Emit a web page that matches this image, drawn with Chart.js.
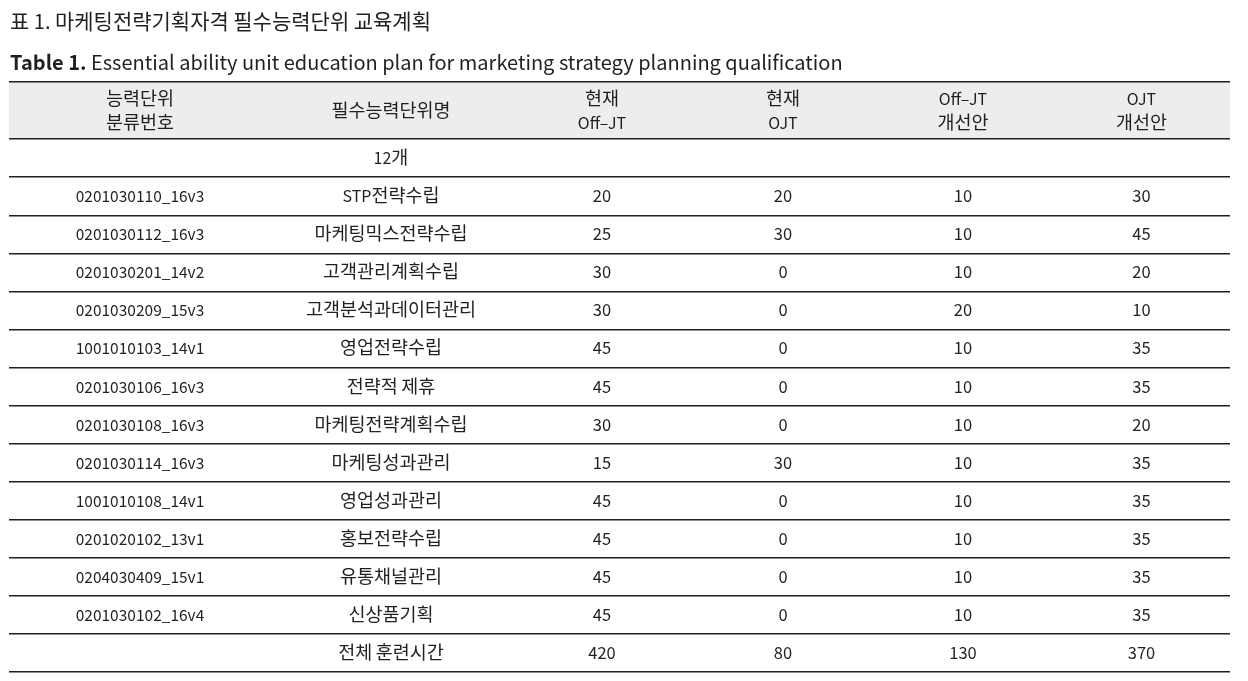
<!DOCTYPE html>
<html>
<head>
<meta charset="utf-8">
<script src="https://cdn.jsdelivr.net/npm/chart.js@4.4.1/dist/chart.umd.min.js"></script>
<style>
  html, body { margin: 0; padding: 0; background: #fff; }
  #wrap { position: relative; width: 1248px; height: 681px; }
</style>
</head>
<body>
<div id="wrap"><canvas id="table-chart"></canvas></div>
<script>
// table content
const titleKo = "표 1. 마케팅전략기획자격 필수능력단위 교육계획";
const titleEnBold = "Table 1.";
const titleEn = " Essential ability unit education plan for marketing strategy planning qualification";

const headers = [["능력단위", "분류번호"], ["필수능력단위명"], ["현재", "Off–JT"], ["현재", "OJT"], ["Off–JT", "개선안"], ["OJT", "개선안"]];
const unitCount = "12개";
const totalLabel = "전체 훈련시간";

const codes = ["0201030110_16v3", "0201030112_16v3", "0201030201_14v2", "0201030209_15v3", "1001010103_14v1", "0201030106_16v3",
  "0201030108_16v3", "0201030114_16v3", "1001010108_14v1", "0201020102_13v1", "0204030409_15v1", "0201030102_16v4"];
const names = ["STP전략수립", "마케팅믹스전략수립", "고객관리계획수립", "고객분석과데이터관리", "영업전략수립", "전략적 제휴",
  "마케팅전략계획수립", "마케팅성과관리", "영업성과관리", "홍보전략수립", "유통채널관리", "신상품기획"];
const offJtNow = [20, 25, 30, 30, 45, 45, 30, 15, 45, 45, 45, 45];
const ojtNow = [20, 30, 0, 0, 0, 0, 0, 30, 0, 0, 0, 0];
const offJtNew = [10, 10, 10, 20, 10, 10, 10, 10, 10, 10, 10, 10];
const ojtNew = [30, 45, 20, 10, 35, 35, 20, 35, 35, 35, 35, 35];
const totals = [420, 80, 130, 370];

// layout (in scale units)
const colWidths = [262, 240, 182, 180, 180, 177];
const latinPx = [15.5, 16, 16.5, 16.5, 16.5, 16.5];
const headerRows = 1.5;
const TEXT = "#231f20";
const FONT = '"Noto Sans CJK KR", "Noto Sans", sans-serif';

let acc = 0;
const colCenters = colWidths.map(w => { const c = acc + w / 2; acc += w; return c; });
const tableWidth = acc;

const bodyCols = [
  ["", ...codes, ""],
  [unitCount, ...names, totalLabel],
  ["", ...offJtNow, totals[0]],
  ["", ...ojtNow, totals[1]],
  ["", ...offJtNew, totals[2]],
  ["", ...ojtNew, totals[3]]
];
const nRows = bodyCols[0].length;
const yMax = headerRows + nRows;
const rowLines = [0];
for (let r = 0; r <= nRows; r++) rowLines.push(headerRows + r);

const datasets = [{
  label: "header",
  lpx: 16,
  data: headers.map((h, i) => ({ x: colCenters[i], y: headerRows / 2, t: h })),
  pointRadius: 0
}];
bodyCols.forEach((col, c) => {
  datasets.push({
    label: "col" + c,
    lpx: latinPx[c],
    data: col.map((v, r) => ({ x: colCenters[c], y: headerRows + r + 0.5, t: [String(v)] })),
    pointRadius: 0
  });
});

// hangul is drawn a bit larger than latin, like the original typesetting
const isHangul = ch => /[\u1100-\u11ff\u3130-\u318f\uac00-\ud7af]/.test(ch);
function splitRuns(str) {
  const runs = [];
  for (const ch of str) {
    const h = isHangul(ch);
    if (runs.length && runs[runs.length - 1].h === h) runs[runs.length - 1].s += ch;
    else runs.push({ h, s: ch });
  }
  return runs;
}
function drawMixed(ctx, str, x, y, hPx, lPx, weight, align) {
  const runs = splitRuns(str);
  let total = 0;
  runs.forEach(r => {
    ctx.font = weight + " " + (r.h ? hPx : lPx) + "px " + FONT;
    r.w = ctx.measureText(r.s).width;
    total += r.w;
  });
  let cx = align === "center" ? x - total / 2 : x;
  ctx.textAlign = "left";
  runs.forEach(r => {
    ctx.font = weight + " " + (r.h ? hPx : lPx) + "px " + FONT;
    ctx.fillText(r.s, cx, y);
    cx += r.w;
  });
  return total;
}

const tablePlugin = {
  id: "tablePlugin",
  beforeDraw(chart) {
    const { ctx, scales: { x, y } } = chart;
    ctx.save();
    ctx.fillStyle = "#ecedec";
    const top = y.getPixelForValue(0), bot = y.getPixelForValue(headerRows);
    ctx.fillRect(x.getPixelForValue(0), top, x.getPixelForValue(tableWidth) - x.getPixelForValue(0), bot - top);
    ctx.restore();
  },
  afterDatasetsDraw(chart) {
    const ctx = chart.ctx;
    ctx.save();
    ctx.fillStyle = TEXT;
    ctx.textBaseline = "alphabetic";
    chart.data.datasets.forEach((ds, i) => {
      chart.getDatasetMeta(i).data.forEach((pt, j) => {
        const lines = ds.data[j].t;
        const gap = 24;
        lines.forEach((ln, k) => {
          const base = pt.y + (k - (lines.length - 1) / 2) * gap + 6;
          drawMixed(ctx, ln, pt.x, base, 18.5, ds.lpx, "normal", "center");
        });
      });
    });
    ctx.restore();
  },
  afterDraw(chart) {
    const ctx = chart.ctx;
    ctx.save();
    ctx.fillStyle = TEXT;
    ctx.textBaseline = "alphabetic";
    drawMixed(ctx, titleKo, 10, 29, 21, 20, "normal", "left");
    const w = drawMixed(ctx, titleEnBold, 10, 70, 20, 20, "bold", "left");
    drawMixed(ctx, titleEn, 10 + w, 70, 20, 20, "normal", "left");
    ctx.restore();
  }
};

new Chart(document.getElementById("table-chart").getContext("2d"), {
  type: "scatter",
  data: { datasets: datasets },
  options: {
    responsive: true,
    maintainAspectRatio: false,
    animation: false,
    events: [],
    layout: { padding: { top: 82, left: 9, right: 18, bottom: 9 } },
    plugins: { legend: { display: false }, tooltip: { enabled: false } },
    scales: {
      x: { type: "linear", min: 0, max: tableWidth, display: false },
      y: {
        type: "linear", min: 0, max: yMax, reverse: true,
        afterBuildTicks: (s) => { s.ticks = rowLines.map(v => ({ value: v })); },
        ticks: { display: false },
        border: { display: false },
        grid: { drawTicks: false, color: TEXT, lineWidth: 1.4 }
      }
    }
  },
  plugins: [tablePlugin]
});
</script>
</body>
</html>
